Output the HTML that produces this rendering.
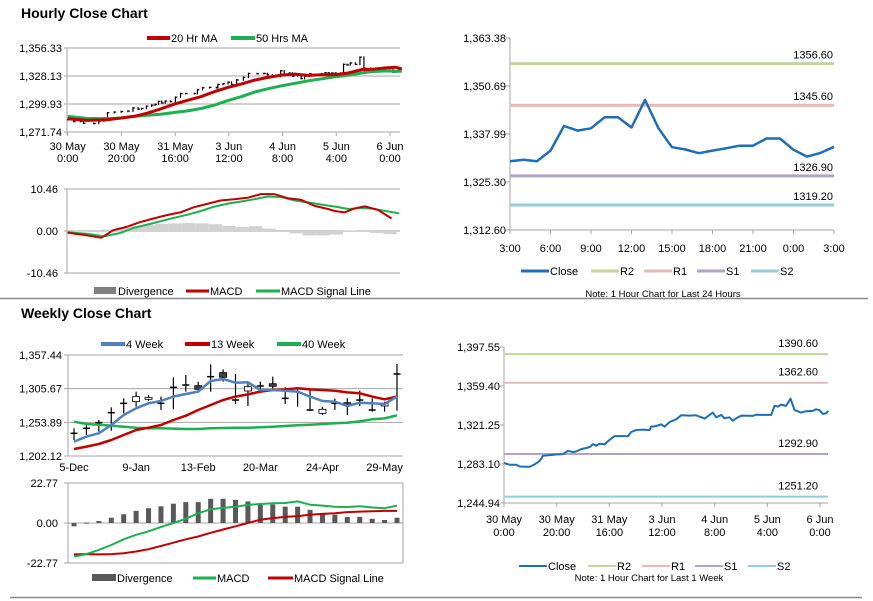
<!DOCTYPE html>
<html><head><meta charset="utf-8">
<style>
html,body{margin:0;padding:0;background:#fff;}
svg{display:block;font-family:"Liberation Sans Narrow","Liberation Sans",Arial,sans-serif;}
text{font-size:11px;fill:#000;}
.t{font-size:14px;font-weight:bold;font-family:"Liberation Sans",Arial,sans-serif;}
.n{font-size:9.5px;}
</style></head>
<body>
<svg id="chart" width="873" height="601" viewBox="0 0 873 601" xmlns="http://www.w3.org/2000/svg">
<text class="t" x="21" y="18">Hourly Close Chart</text>
<text class="t" x="21" y="318">Weekly Close Chart</text>
<line x1="0" y1="298.5" x2="868" y2="298.5" stroke="#888" stroke-width="1.5"/>
<line x1="10" y1="597.5" x2="862" y2="597.5" stroke="#888" stroke-width="1.5"/>
</svg>
<script>
// ===== Data =====
const weekHours = [0,2.2,4.7,5.9,9.7,11.6,13.5,14.8,17.3,19.9,22.4,24.3,26.2,27.5,29.3,31.2,32.5,33.8,35,36.3,38.2,40.1,42,43.9,47.1,48.3,50.2,52.8,55.3,55.9,57.8,59.7,61,62.9,65.4,67.3,70.5,73,74.3,76.2,79.3,80.6,82.5,83.7,85.6,86.9,88.2,90.1,94.5,95.8,97,98.3,99.6,101.5,102.7,104,105.2,107.1,108.8,110.3,112.8,114.7,117.3,118.5,119.8,121.1,122.3,123.2];
const weekClose = [1284.2,1282.3,1282.3,1280.6,1280.3,1282.6,1285.9,1291.1,1291.8,1292.4,1292.8,1296.0,1294.7,1295.4,1297.7,1298.7,1299.6,1302.6,1301.0,1302.9,1302.3,1306.8,1310.4,1310.4,1310.4,1314.4,1316.3,1316.7,1316.3,1319.6,1320.3,1321.9,1319.6,1324.2,1326.8,1330.7,1330.4,1330.7,1329.4,1327.5,1333.4,1328.8,1331.1,1327.8,1328.8,1325.5,1327.8,1330.4,1330.1,1331.4,1331.1,1331.1,1331.1,1331.1,1339.9,1339.3,1341.2,1339.9,1347.1,1336.0,1333.4,1334.7,1335.0,1336.6,1335.7,1332.1,1332.7,1335.0];
const maHours = [0,7.1,14.6,19.6,24.6,29.6,34.6,39.6,44.6,49.6,54.6,59.6,64.6,69.6,74.6,79.6,84.6,89.6,94.6,99.6,104.6,109.6,113.4,118.4,122.1,124.4];
const ma20 = [1285.0,1283.4,1284.1,1285.7,1287.4,1290.7,1295.0,1299.7,1303.7,1307.3,1312.3,1316.7,1320.0,1324.0,1326.7,1329.0,1330.0,1328.7,1329.3,1329.3,1331.3,1334.7,1335.0,1336.3,1337.0,1335.3];
const ma50 = [1287.4,1285.4,1285.0,1285.7,1287.4,1288.7,1289.7,1291.4,1293.0,1295.4,1298.7,1303.4,1307.3,1312.0,1315.3,1318.3,1320.7,1323.3,1325.3,1327.3,1329.0,1331.3,1332.7,1333.3,1333.0,1333.0];
const hMacdHours = [0,5.6,12.5,16.9,21.9,26.9,31.9,36.9,41.9,46.9,51.9,56.9,61.9,66.9,71.9,76.9,81.9,86.9,91.9,96.9,99.4,103.1,106.9,110.6,115.6,120.6];
const hMacd = [-0.42,-0.93,-1.69,0.17,1.01,2.19,3.12,3.96,4.64,5.90,6.75,7.59,7.93,8.27,9.19,9.19,8.18,7.76,6.24,5.48,4.98,4.64,5.65,6.16,5.23,3.12];
const hSigHours = [0,7.1,13.4,19.6,24.6,29.6,34.6,39.6,44.6,49.6,54.6,59.6,64.6,69.6,74.6,79.6,84.6,89.6,94.6,99.6,104.6,109.6,113.4,118.4,123.4];
const hSignal = [-0.34,-0.67,-1.35,-0.51,0.76,1.60,2.45,3.29,4.05,4.98,6.07,6.83,7.34,7.93,8.60,8.44,7.59,7.09,6.58,6.07,5.48,5.74,5.57,4.98,4.39];
const hDivHours = [0,5,10,15,20,25,30,35,40,45,50,55,60,65,70,75,80,85,90,95,100,105,110,115,120];
const hDiv = [0,-0.2,-0.3,0.4,0.9,1.3,1.6,1.8,1.9,2.0,1.9,1.7,1.3,1.0,1.2,0.6,0,-0.6,-1.1,-1.1,-0.9,0.1,0.3,-0.5,-0.8];
const dayLabels = ["3:00","6:00","9:00","12:00","15:00","18:00","21:00","0:00","3:00"];
const dayClose = [1330.8,1331.2,1330.8,1333.6,1340.1,1338.9,1339.5,1342.4,1342.4,1339.7,1347.0,1339.5,1334.5,1333.9,1332.9,1333.6,1334.2,1334.9,1334.9,1336.8,1336.8,1333.8,1332.0,1333.0,1334.6];
const dayTicks = [1312.60,1325.30,1337.99,1350.69,1363.38];
const dayLevels = [1356.60,1345.60,1326.90,1319.20];
const weekLabels = ["5-Dec","9-Jan","13-Feb","20-Mar","24-Apr","29-May"];
const wOpen = [1237.0,1244.7,1253.4,1268.8,1283.1,1285.7,1289.3,1283.1,1307.7,1311.3,1310.3,1324.1,1330.3,1288.2,1302.1,1309.8,1313.3,1290.8,1306.2,1272.9,1267.7,1283.1,1284.1,1288.2,1272.9,1279.0,1328.2];
const wHigh = [1244.7,1249.8,1257.5,1277.0,1290.8,1301.1,1295.9,1293.4,1323.1,1326.7,1316.4,1343.1,1335.4,1328.2,1316.4,1316.4,1324.1,1307.7,1306.2,1306.2,1278.0,1290.3,1290.8,1302.6,1290.8,1285.7,1343.6];
const wLow = [1226.7,1234.4,1239.5,1241.1,1267.7,1278.0,1286.7,1272.9,1273.9,1301.1,1303.6,1301.1,1316.4,1282.1,1279.0,1303.6,1302.6,1282.1,1278.0,1271.3,1265.2,1272.9,1265.2,1279.0,1270.3,1270.3,1271.8];
const wClose = [1237.0,1244.7,1253.4,1268.8,1283.1,1293.4,1292.3,1283.1,1307.7,1311.3,1304.6,1324.1,1323.1,1288.2,1308.7,1309.8,1309.3,1290.8,1306.2,1272.9,1273.9,1283.1,1280.0,1288.2,1272.9,1283.1,1328.2];
const w4 = [1224.1,1231.9,1237.0,1249.8,1265.2,1275.4,1283.1,1286.7,1293.4,1297.5,1301.1,1317.5,1320.5,1314.9,1315.4,1303.6,1303.6,1302.6,1301.1,1293.4,1286.7,1285.7,1279.0,1284.1,1283.1,1282.1,1293.4];
const w13 = [1212.9,1216.5,1220.6,1226.7,1234.4,1242.1,1245.7,1249.8,1257.5,1264.1,1272.9,1280.5,1288.2,1293.4,1296.9,1301.1,1303.6,1304.6,1306.2,1304.6,1303.6,1302.6,1300.0,1298.5,1293.4,1289.3,1293.4];
const w40 = [1254.9,1251.3,1250.3,1248.8,1247.2,1245.7,1244.7,1244.7,1244.2,1243.6,1243.6,1244.7,1245.2,1245.7,1245.7,1246.2,1247.2,1248.3,1249.3,1250.3,1251.3,1252.4,1253.4,1255.4,1258.5,1260.0,1264.7];
const wDiv = [-1.9,0.2,1.1,3.0,5.0,6.9,8.4,9.5,11.0,11.9,11.9,13.8,13.8,13.1,12.3,11.2,10.6,9.3,9.3,7.5,5.6,4.7,3.5,3.5,2.4,1.7,3.0];
const wMacd = [-19.2,-17.7,-15.3,-12.5,-9.3,-6.7,-4.7,-2.2,0,2.4,5.6,7.8,8.6,9.3,10.3,10.8,11.2,11.4,12.3,10.4,9.9,9.3,9.1,9.5,8.8,8.4,9.9];
const wSignal = [-17.9,-17.7,-17.9,-17.7,-17.2,-16.2,-14.9,-13.1,-11.2,-9.3,-7.7,-5.6,-3.7,-1.9,0,1.9,2.8,3.5,3.9,4.7,5.2,5.6,6.2,6.5,6.7,6.9,6.9];
const levels = [1390.60,1362.60,1292.90,1251.20];
const weekTicks = [1244.94,1283.10,1321.25,1359.40,1397.55];
const hourLabels = [["30 May","0:00"],["30 May","20:00"],["31 May","16:00"],["3 Jun","12:00"],["4 Jun","8:00"],["5 Jun","4:00"],["6 Jun","0:00"]];
const hourTicks = [1271.74,1299.93,1328.13,1356.33];
const wTicks = [1202.12,1253.89,1305.67,1357.44];

// ===== Helpers =====
const NS="http://www.w3.org/2000/svg";
const svg=document.getElementById('chart');
function mk(tag,attrs,name){
  const el=document.createElementNS(NS,tag);
  for(const k in attrs) el.setAttribute(k,attrs[k]);
  
  
  svg.appendChild(el);
  return el;
}
function txt(x,y,s,anchor,name,cls){
  const el=mk('text',{x:x,y:y,'text-anchor':anchor||'start'},name);
  if(cls) el.setAttribute('class',cls);
  el.textContent=s;return el;
}
function lin(d0,d1,r0,r1){return v=>r0+(v-d0)*(r1-r0)/(d1-d0);}
function fmt(v){return v.toLocaleString('en-US',{minimumFractionDigits:2,maximumFractionDigits:2});}
function poly(xs,ys,fx,fy,color,w,name){
  const pts=xs.map((h,i)=>fx(h).toFixed(1)+','+fy(ys[i]).toFixed(1)).join(' ');
  return mk('polyline',{points:pts,fill:'none',stroke:color,'stroke-width':w,'stroke-linejoin':'round'},name);
}
const GRID='#a6a6a6';
const RED='#c00000',GREEN='#1cb050',BLUE='#1f6db4';

// ===== Panel 1: hourly price =====
(function(){
  const x=lin(0,120,67.7,390), y=lin(1271.74,1356.33,132,48);
  hourTicks.forEach(t=>{
    mk('line',{x1:64,x2:400,y1:y(t),y2:y(t),stroke:GRID,'stroke-width':1},'hourly-gridline');
    txt(62,y(t)+4,fmt(t),'end','hourly-y-tick');
  });
  mk('line',{x1:67,x2:67,y1:48,y2:135,stroke:GRID},'hourly-y-axis');
  hourLabels.forEach((l,i)=>{
    const xx=x(i*20);
    mk('line',{x1:xx,x2:xx,y1:132,y2:136,stroke:GRID},'hourly-x-tick');
    txt(xx,150,l[0],'middle','hourly-x-label');
    txt(xx,162,l[1],'middle','hourly-x-label');
  });
  weekClose.forEach((c,i)=>{
    const prev=i?weekClose[i-1]:c;
    const lo=Math.min(prev,c)-0.8, hi=Math.max(prev,c)+0.8;
    mk('line',{x1:x(weekHours[i]),x2:x(weekHours[i]),y1:y(lo),y2:y(hi),stroke:'#000','stroke-width':1.2},'hourly-price-bar');
    mk('line',{x1:x(weekHours[i]),x2:x(weekHours[i])+2,y1:y(c),y2:y(c),stroke:'#000','stroke-width':1.2},'hourly-price-tick');
  });
  poly(maHours,ma50,x,y,GREEN,3,'ma50-line');
  poly(maHours,ma20,x,y,RED,3,'ma20-line');
  mk('line',{x1:147,x2:170,y1:38,y2:38,stroke:RED,'stroke-width':4},'legend-ma20-swatch');
  txt(171,42,'20 Hr MA','start','legend-ma20');
  mk('line',{x1:231,x2:255,y1:38,y2:38,stroke:GREEN,'stroke-width':4},'legend-ma50-swatch');
  txt(256,42,'50 Hrs MA','start','legend-ma50');
})();

// ===== Panel 2: hourly MACD =====
(function(){
  const x=lin(0,120,67.7,390), y=lin(-10.46,10.46,273,189);
  [-10.46,0,10.46].forEach(t=>{
    mk('line',{x1:64,x2:400,y1:y(t),y2:y(t),stroke:GRID},'hmacd-gridline');
    txt(58,y(t)+4,t.toFixed(2),'end','hmacd-y-tick');
  });
  mk('line',{x1:67,x2:67,y1:189,y2:273,stroke:GRID},'hmacd-y-axis');
  hDiv.forEach((d,i)=>{
    const y0=y(0),y1=y(d);
    mk('rect',{x:x(hDivHours[i])-6.7,y:Math.min(y0,y1),width:13.4,height:Math.abs(y1-y0),fill:'#d2d2d2'},'hmacd-divergence-bar');
  });
  poly(hSigHours,hSignal,x,y,GREEN,2,'hmacd-signal-line');
  poly(hMacdHours,hMacd,x,y,RED,2,'hmacd-macd-line');
  mk('rect',{x:94,y:287,width:22,height:7,fill:'#808080'},'legend-hdiv-swatch');
  txt(118,295,'Divergence','start','legend-hdiv');
  mk('line',{x1:186,x2:209,y1:291,y2:291,stroke:RED,'stroke-width':3},'legend-hmacd-swatch');
  txt(210,295,'MACD','start','legend-hmacd');
  mk('line',{x1:256,x2:280,y1:291,y2:291,stroke:GREEN,'stroke-width':3},'legend-hsignal-swatch');
  txt(281,295,'MACD Signal Line','start','legend-hsignal');
})();

// ===== Panel 3: last 24 hours =====
(function(){
  const x=lin(0,24,510,834), y=lin(1312.60,1363.38,230,38);
  const cols=['#c3d69b','#e6b9b8','#b3a2c7','#93cddd'];
  dayTicks.forEach(t=>{
    mk('line',{x1:506,x2:510,y1:y(t),y2:y(t),stroke:GRID},'day-y-tickmark');
    txt(506,y(t)+4,fmt(t),'end','day-y-tick');
  });
  dayLabels.forEach((l,i)=>{
    const xx=x(i*3);
    mk('line',{x1:xx,x2:xx,y1:230,y2:234,stroke:GRID},'day-x-tickmark');
    txt(xx,252,l,'middle','day-x-label');
  });
  mk('line',{x1:510,x2:510,y1:38,y2:230,stroke:GRID},'day-y-axis');
  mk('line',{x1:510,x2:834,y1:230,y2:230,stroke:GRID},'day-x-axis');
  dayLevels.forEach((v,i)=>{
    mk('line',{x1:510,x2:834,y1:y(v),y2:y(v),stroke:cols[i],'stroke-width':3},'day-level-line');
    txt(833,y(v)-5,v.toFixed(2),'end','day-level-label');
  });
  poly(dayClose.map((_,i)=>i),dayClose,x,y,BLUE,2.5,'day-close-line');
  const lg=[['Close',BLUE],['R2',cols[0]],['R1',cols[1]],['S1',cols[2]],['S2',cols[3]]];
  const lx=[521,591,644,697,751];
  lg.forEach((l,i)=>{
    mk('line',{x1:lx[i],x2:lx[i]+28,y1:271,y2:271,stroke:l[1],'stroke-width':3},'legend-day-swatch');
    txt(lx[i]+29,275,l[0],'start','legend-day-'+l[0].toLowerCase());
  });
  txt(663,297,'Note: 1 Hour Chart for Last 24 Hours','middle','day-note','n');
})();

// ===== Panel 4: weekly price =====
(function(){
  const x=lin(0,26,74,397), y=lin(1202.12,1357.44,456,355);
  wTicks.forEach(t=>{
    mk('line',{x1:64,x2:403,y1:y(t),y2:y(t),stroke:GRID},'weekly-gridline');
    txt(62,y(t)+4,fmt(t),'end','weekly-y-tick');
  });
  mk('line',{x1:68,x2:68,y1:355,y2:456,stroke:GRID},'weekly-y-axis');
  weekLabels.forEach((l,i)=>{
    txt(x(i*5),471,l,'middle','weekly-x-label');
  });
  wOpen.forEach((o,i)=>{
    const xx=x(i),c=wClose[i];
    mk('line',{x1:xx,x2:xx,y1:y(wHigh[i]),y2:y(wLow[i]),stroke:'#000','stroke-width':1.2},'weekly-candle-wick');
    if(Math.abs(o-c)<0.01){
      mk('line',{x1:xx-3.5,x2:xx+3.5,y1:y(c),y2:y(c),stroke:'#000','stroke-width':1.5},'weekly-candle-tick');
    } else {
      mk('rect',{x:xx-3.5,y:y(Math.max(o,c)),width:7,height:Math.abs(y(o)-y(c)),fill:c>o?'#fff':'#404040',stroke:'#000','stroke-width':0.8},'weekly-candle-body');
    }
  });
  const idx=w4.map((_,i)=>i);
  poly(idx,w40,x,y,GREEN,2.5,'ma40-week-line');
  poly(idx,w13,x,y,RED,2.5,'ma13-week-line');
  poly(idx,w4,x,y,'#4f81bd',2.5,'ma4-week-line');
  mk('line',{x1:101,x2:125,y1:344,y2:344,stroke:'#4f81bd','stroke-width':4},'legend-4week-swatch');
  txt(126,348,'4 Week','start','legend-4week');
  mk('line',{x1:185,x2:210,y1:344,y2:344,stroke:RED,'stroke-width':4},'legend-13week-swatch');
  txt(211,348,'13 Week','start','legend-13week');
  mk('line',{x1:277,x2:301,y1:344,y2:344,stroke:GREEN,'stroke-width':4},'legend-40week-swatch');
  txt(302,348,'40 Week','start','legend-40week');
})();

// ===== Panel 5: weekly MACD =====
(function(){
  const x=lin(0,26,74,397), y=lin(-22.77,22.77,563,483);
  [-22.77,0,22.77].forEach(t=>{
    mk('line',{x1:64,x2:403,y1:y(t),y2:y(t),stroke:GRID},'wmacd-gridline');
    txt(58,y(t)+4,t.toFixed(2),'end','wmacd-y-tick');
  });
  mk('line',{x1:68,x2:68,y1:483,y2:563,stroke:GRID},'wmacd-y-axis');
  mk('line',{x1:403,x2:403,y1:483,y2:563,stroke:GRID},'wmacd-right-border');
  wDiv.forEach((d,i)=>{
    const y0=y(0),y1=y(d);
    mk('rect',{x:x(i)-2.5,y:Math.min(y0,y1),width:5,height:Math.max(1,Math.abs(y1-y0)),fill:'#595959'},'wmacd-divergence-bar');
  });
  const idx=wMacd.map((_,i)=>i);
  poly(idx,wSignal,x,y,RED,2,'wmacd-signal-line');
  poly(idx,wMacd,x,y,GREEN,2,'wmacd-macd-line');
  mk('rect',{x:92,y:574,width:24,height:7,fill:'#595959'},'legend-wdiv-swatch');
  txt(117,582,'Divergence','start','legend-wdiv');
  mk('line',{x1:193,x2:216,y1:578,y2:578,stroke:GREEN,'stroke-width':3},'legend-wmacd-swatch');
  txt(217,582,'MACD','start','legend-wmacd');
  mk('line',{x1:268,x2:293,y1:578,y2:578,stroke:RED,'stroke-width':3},'legend-wsignal-swatch');
  txt(294,582,'MACD Signal Line','start','legend-wsignal');
})();

// ===== Panel 6: last week hourly =====
(function(){
  const x=lin(0,120,504,820), y=lin(1244.94,1397.55,503,347);
  const cols=['#c3d69b','#e6b9b8','#b3a2c7','#93cddd'];
  weekTicks.forEach(t=>{
    mk('line',{x1:500,x2:504,y1:y(t),y2:y(t),stroke:GRID},'lw-y-tickmark');
    txt(500,y(t)+4,fmt(t),'end','lw-y-tick');
  });
  mk('line',{x1:504,x2:504,y1:347,y2:503,stroke:GRID},'lw-y-axis');
  mk('line',{x1:504,x2:828,y1:503,y2:503,stroke:GRID},'lw-x-axis');
  hourLabels.forEach((l,i)=>{
    const xx=x(i*20);
    mk('line',{x1:xx,x2:xx,y1:503,y2:507,stroke:GRID},'lw-x-tickmark');
    txt(xx,523,l[0],'middle','lw-x-label');
    txt(xx,536,l[1],'middle','lw-x-label');
  });
  levels.forEach((v,i)=>{
    mk('line',{x1:504,x2:828,y1:y(v),y2:y(v),stroke:cols[i],'stroke-width':2},'lw-level-line');
    txt(818,y(v)-7,v.toFixed(2),'end','lw-level-label');
  });
  poly(weekHours,weekClose,x,y,BLUE,2,'lw-close-line');
  const lg=[['Close',BLUE],['R2',cols[0]],['R1',cols[1]],['S1',cols[2]],['S2',cols[3]]];
  const lx=[519,588,642,695,748];
  lg.forEach((l,i)=>{
    mk('line',{x1:lx[i],x2:lx[i]+28,y1:566,y2:566,stroke:l[1],'stroke-width':2},'legend-lw-swatch');
    txt(lx[i]+29,570,l[0],'start','legend-lw-'+l[0].toLowerCase());
  });
  txt(649,581,'Note: 1 Hour Chart for Last 1 Week','middle','lw-note','n');
})();
</script>
</body></html>
